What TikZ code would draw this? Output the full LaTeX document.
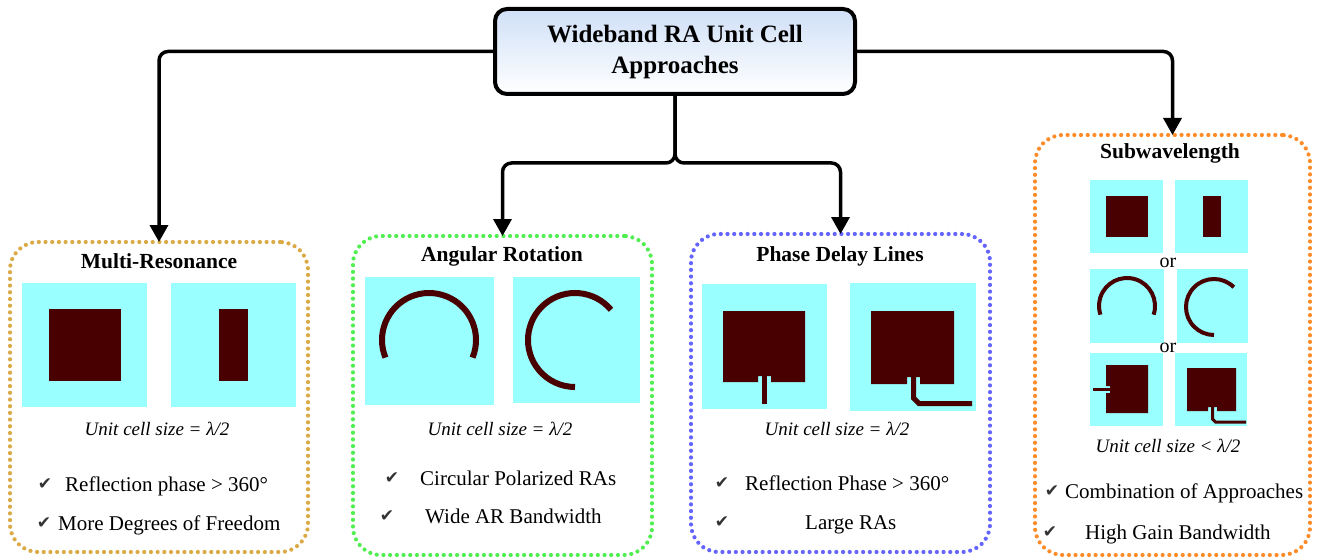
\documentclass[tikz,border=0pt]{standalone}
\usepackage{fontspec}
\setmainfont{Liberation Serif}
\newfontfamily\symfont{DejaVu Sans}
\usetikzlibrary{arrows.meta}

\definecolor{titletop}{RGB}{208,224,247}
\definecolor{cellcyan}{RGB}{153,255,255}
\definecolor{metal}{RGB}{72,0,0}
\definecolor{mrcol}{RGB}{218,170,70}
\definecolor{arcol}{RGB}{80,238,80}
\definecolor{pdcol}{RGB}{100,100,255}
\definecolor{swcol}{RGB}{255,140,40}

\begin{document}
\begin{tikzpicture}[x=1pt,y=-1pt,
  titlebox/.style={draw=black, line width=4pt, rounded corners=12pt,
    top color=titletop, bottom color=white, inner sep=0pt, outer sep=0pt,
    align=center, font=\fontsize{25}{31}\selectfont\bfseries},
  panel/.style={line width=4.2pt, line cap=round, dash pattern=on 0pt off 6.7pt,
    rounded corners=28pt, inner sep=0pt, outer sep=0pt},
  conn/.style={draw=black, line width=3.5pt, rounded corners=9pt,
    -{Triangle[length=17pt,width=18pt]}},
  ptitle/.style={anchor=base, inner sep=0pt, font=\fontsize{21.5}{26}\selectfont\bfseries},
  unitnote/.style={anchor=base, inner sep=0pt, font=\fontsize{19}{23}\selectfont\itshape},
  ornote/.style={anchor=base, inner sep=0pt, font=\fontsize{20}{23}\selectfont},
  itemtext/.style={anchor=base west, inner sep=0pt, font=\fontsize{21}{25}\selectfont},
  tick/.style={anchor=base, inner sep=0pt, text=black!80, font=\symfont\fontsize{17}{19}\selectfont},
  cellbg/.style={fill=cellcyan},
  metalfill/.style={fill=metal},
  ringwide/.style={draw=metal, line width=6pt},
  ringthin/.style={draw=metal, line width=4pt},
  stubline/.style={draw=metal, line width=5pt},
  stubthin/.style={draw=metal, line width=3pt}]

\useasboundingbox (0,0) rectangle (1320,559);

% ---------- root ----------
\node[titlebox, minimum width=360pt, minimum height=85pt] (title) at (675,51.5)
  {Wideband RA Unit Cell\\Approaches};

% ---------- category frames ----------
\node[panel, draw=mrcol, minimum width=298pt, minimum height=310pt] (mr) at (159,397) {};
\node[panel, draw=arcol, minimum width=299pt, minimum height=319pt] (ar) at (502.5,395.5) {};
\node[panel, draw=pdcol, minimum width=299pt, minimum height=318pt] (pd) at (840.5,393) {};
\node[panel, draw=swcol, minimum width=275pt, minimum height=420pt] (sw) at (1172.5,345) {};

% ---------- connectors ----------
\coordinate (split) at (675,163);
\draw[conn] (title.west) -| (mr.north);
\draw[conn] (title.east) -| (sw.north);
\draw[conn] (title.south) -- (split) -| (ar.north);
\draw[conn] (title.south) -- (split) -| (pd.north);

% ---------- Multi-Resonance ----------
\node[ptitle] (mrt) at (159,268) {Multi-Resonance};
\fill[cellbg] (22,283) rectangle (147,407);
\fill[cellbg] (171,283) rectangle (296,407);
\fill[metalfill] (49,309) rectangle (121,381);
\fill[metalfill] (219,309) rectangle (248,381);
\node[unitnote] (mru) at (157,435) {Unit cell size = λ/2};
\node[tick] (mrc1) at (45,489) {✔};
\node[itemtext] (mri1) at (65,491) {Reflection phase > 360°};
\node[tick] (mrc2) at (44,528) {✔};
\node[itemtext] (mri2) at (58,530) {More Degrees of Freedom};

% ---------- Angular Rotation ----------
\node[ptitle] (art) at (502,261) {Angular Rotation};
\fill[cellbg] (365,277) rectangle (494,405);
\fill[cellbg] (513,277) rectangle (640,403);
\draw[ringwide] (429,340) ++(-22:47pt) arc[start angle=-22, end angle=202, radius=47pt];
\draw[ringwide] (575,340) ++(40:47pt) arc[start angle=40, end angle=270, radius=47pt];
\node[unitnote] (aru) at (500,435) {Unit cell size = λ/2};
\node[tick] (arc1) at (392,483) {✔};
\node[itemtext] (ari1) at (420,485) {Circular Polarized RAs};
\node[tick] (arc2) at (387,521) {✔};
\node[itemtext] (ari2) at (425,523) {Wide AR Bandwidth};

% ---------- Phase Delay Lines ----------
\node[ptitle] (pdt) at (840,261) {Phase Delay Lines};
\fill[cellbg] (702,284) rectangle (827,409);
\fill[cellbg] (850,283) rectangle (976,411);
\fill[metalfill] (723,311) -- (805,311) -- (805,382) -- (771,382) -- (771,376)
  -- (758,376) -- (758,382) -- (723,382) -- cycle;
\draw[stubline] (764.5,376) -- (764.5,404);
\fill[metalfill] (871,311) -- (954,311) -- (954,384) -- (920,384) -- (920,377)
  -- (907,377) -- (907,384) -- (871,384) -- cycle;
\draw[stubline] (913.5,377) -- (913.5,398) -- (919,403.5) -- (972,403.5);
\node[unitnote] (pdu) at (837,435) {Unit cell size = λ/2};
\node[tick] (pdc1) at (722,488) {✔};
\node[itemtext] (pdi1) at (745,490) {Reflection Phase > 360°};
\node[tick] (pdc2) at (722,527) {✔};
\node[itemtext] (pdi2) at (805,529) {Large RAs};

% ---------- Subwavelength ----------
\node[ptitle] (swt) at (1170,159) {Subwavelength};
\fill[cellbg] (1090,180) rectangle (1163,253);
\fill[cellbg] (1175,180) rectangle (1248,253);
\fill[metalfill] (1106,196) rectangle (1148,237);
\fill[metalfill] (1203,196) rectangle (1221,237);
\node[ornote] (or1) at (1168,267) {or};
\fill[cellbg] (1090,269) rectangle (1164,343);
\fill[cellbg] (1177,269) rectangle (1248,343);
\draw[ringthin] (1127,306) ++(-18:28pt) arc[start angle=-18, end angle=198, radius=28pt];
\draw[ringthin] (1214,307) ++(45:28pt) arc[start angle=45, end angle=270, radius=28pt];
\node[ornote] (or2) at (1168,352) {or};
\fill[cellbg] (1090,353) rectangle (1163,426);
\fill[cellbg] (1175,353) rectangle (1247,426);
\fill[metalfill] (1106,365) -- (1148,365) -- (1148,413) -- (1106,413) -- (1106,393)
  -- (1110,393) -- (1110,386) -- (1106,386) -- cycle;
\draw[stubthin] (1093,389.5) -- (1110,389.5);
\fill[metalfill] (1187,368) -- (1236,368) -- (1236,411) -- (1217,411) -- (1217,407)
  -- (1208,407) -- (1208,411) -- (1187,411) -- cycle;
\draw[stubthin] (1212.5,407) -- (1212.5,419) -- (1215.5,422) -- (1246,422);
\node[unitnote] (swu) at (1168,452) {Unit cell size < λ/2};
\node[tick] (swc1) at (1052,496) {✔};
\node[itemtext] (swi1) at (1065,498) {Combination of Approaches};
\node[tick] (swc2) at (1050,537) {✔};
\node[itemtext] (swi2) at (1085,539) {High Gain Bandwidth};

\end{tikzpicture}
\end{document}
